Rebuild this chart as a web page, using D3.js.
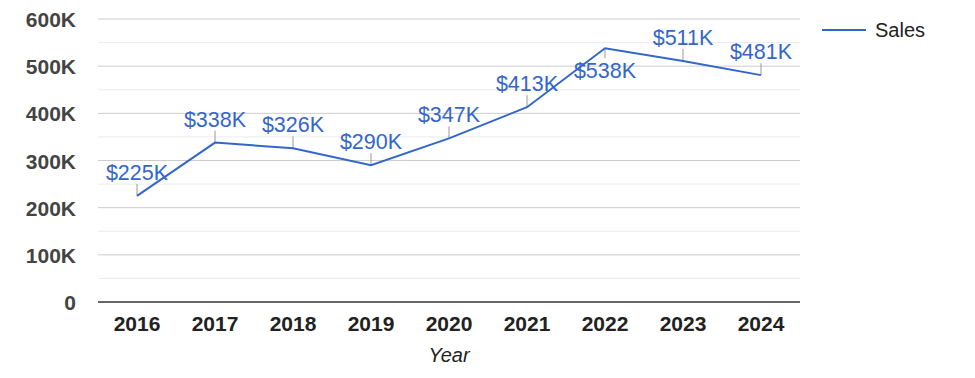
<!DOCTYPE html>
<html><head><meta charset="utf-8">
<script src="https://cdn.jsdelivr.net/npm/d3@7"></script>
<style>body{margin:0;background:#fff;} text{font-family:Arial,"Liberation Sans",sans-serif;}</style>
</head><body>
<svg id="c" width="975" height="378"></svg>
<script>
const years = ["2016","2017","2018","2019","2020","2021","2022","2023","2024"];
const sales = [225000,338000,326000,290000,347000,413000,538000,511000,481000];
const labels = ["$225K","$338K","$326K","$290K","$347K","$413K","$538K","$511K","$481K"];
const labelBelow = [false,false,false,false,false,false,true,false,false];
const yTicks = [0,100000,200000,300000,400000,500000,600000];
const yTickLabels = ["0","100K","200K","300K","400K","500K","600K"];
const minorTicks = [50000,150000,250000,350000,450000,550000];
const seriesName = "Sales";
const xTitle = "Year";

(function(){
const svg = d3.select("#c");
const pLeft = 98, pRight = 800, pTop = 19, pBottom = 302;
const x = d3.scalePoint().domain(years).range([pLeft, pRight]).padding(0.5);
const y = d3.scaleLinear().domain([0, 600000]).range([pBottom, pTop]);
const blue = "#3366cc";

svg.append("g").selectAll("line").data(minorTicks).join("line")
  .attr("x1", pLeft).attr("x2", pRight).attr("y1", d => y(d)).attr("y2", d => y(d))
  .attr("stroke", "#ebebeb").attr("stroke-width", 1);
svg.append("g").selectAll("line").data(yTicks.filter(d => d > 0)).join("line")
  .attr("x1", pLeft).attr("x2", pRight).attr("y1", d => y(d)).attr("y2", d => y(d))
  .attr("stroke", "#cccccc").attr("stroke-width", 1);

svg.append("g").selectAll("text").data(yTicks).join("text")
  .attr("x", 76).attr("y", d => y(d) + 8)
  .attr("text-anchor", "end").attr("font-size", 21).attr("font-weight", "bold")
  .attr("fill", "#444").text((d, i) => yTickLabels[i]);

svg.append("line").attr("x1", pLeft).attr("x2", pRight).attr("y1", y(0)).attr("y2", y(0))
  .attr("stroke", "#333").attr("stroke-width", 1.5);

svg.append("g").selectAll("text").data(years).join("text")
  .attr("x", d => x(d)).attr("y", 331)
  .attr("text-anchor", "middle").attr("font-size", 21).attr("font-weight", "bold")
  .attr("fill", "#222").text(d => d);

svg.append("text").attr("x", (pLeft + pRight) / 2).attr("y", 362)
  .attr("text-anchor", "middle").attr("font-size", 20).attr("font-style", "italic")
  .attr("fill", "#222").text(xTitle);

const data = years.map((yr, i) => ({yr, v: sales[i], lab: labels[i], below: labelBelow[i]}));

svg.append("g").selectAll("line").data(data).join("line")
  .attr("x1", d => x(d.yr)).attr("x2", d => x(d.yr))
  .attr("y1", d => y(d.v)).attr("y2", d => d.below ? y(d.v) + 10 : y(d.v) - 12)
  .attr("stroke", "#999").attr("stroke-width", 1);

svg.append("path").datum(data)
  .attr("d", d3.line().x(d => x(d.yr)).y(d => y(d.v)))
  .attr("fill", "none").attr("stroke", blue).attr("stroke-width", 2);

svg.append("g").selectAll("text").data(data).join("text")
  .attr("x", d => x(d.yr)).attr("y", d => d.below ? y(d.v) + 30 : y(d.v) - 16)
  .attr("text-anchor", "middle").attr("font-size", 21.5)
  .attr("fill", blue).text(d => d.lab);

svg.append("line").attr("x1", 822).attr("x2", 866).attr("y1", 30).attr("y2", 30)
  .attr("stroke", blue).attr("stroke-width", 2);
svg.append("text").attr("x", 875).attr("y", 37).attr("font-size", 20)
  .attr("fill", "#222").text(seriesName);
})();
</script>
</body></html>
